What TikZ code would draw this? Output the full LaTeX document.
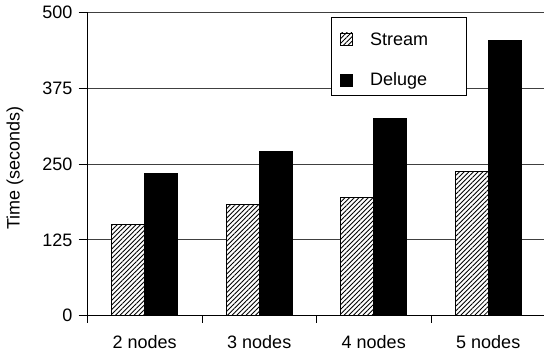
\documentclass[tikz,border=0pt]{standalone}
\usepackage{fontspec}
\setmainfont{Liberation Sans}
\usetikzlibrary{patterns.meta}
\begin{document}
\begin{tikzpicture}[x=1pt,y=1pt,font=\fontsize{18}{21}\selectfont,
  hatchbar/.style={draw=black,line width=0.8pt,fill=white,
    postaction={pattern={Lines[angle=45,distance=3.3pt,line width=0.85pt]}}},
  solidbar/.style={draw=black,line width=0.8pt,fill=black},
  gridline/.style={black!75,line width=0.9pt},
  axisline/.style={black,line width=0.9pt}]
\useasboundingbox (0,0) rectangle (544,356);

\begin{scope}[shift={(87.5,40.3)},y=0.6068pt]
% grade
\foreach \v in {125,250,...,500} {
  \draw[gridline] (0,\v) -- (460,\v);
}

% barras (stream / deluge)
\foreach \c/\s/\d in {57.25/150/235, 171.75/183/271, 286.25/195/325, 400.75/237/453} {
  \draw[hatchbar] (\c-33,0) rectangle (\c,\s);
  \draw[solidbar] (\c,0) rectangle (\c+33,\d);
}

% eixos
\draw[axisline] (0,-11.5) -- (0,500);
\draw[axisline] (0,0) -- (460,0);
\foreach \x in {114.5, 229, 343.5} {
  \draw[axisline] (\x,0) -- (\x,-11.5);
}
\foreach \v in {0,125,...,500} {
  \draw[axisline] (-9,\v) -- (0,\v);
  \node[anchor=east,inner sep=0] (yl\v) at (-14.8,\v) {\v};
}

% rótulos das categorias
\foreach \c/\n in {57.25/2, 171.75/3, 286.25/4, 400.75/5} {
  \node (xl\n) at (\c,-43.3) {\n{} nodes};
}
\node[rotate=90] (ytitle) at (-72.5,243) {Time (seconds)};
\end{scope}

% legenda
\node[draw=black,line width=0.8pt,fill=white,minimum width=135,minimum height=78,inner sep=0] (legend) at (399.2,299.3) {};
\draw[hatchbar] (340,311) rectangle (352,323);
\draw[solidbar] (340,269.5) rectangle (352,281.5);
\node[anchor=west,inner sep=0] (lgstream) at (370,317) {Stream};
\node[anchor=west,inner sep=0] (lgdeluge) at (370,275.5) {Deluge};

\end{tikzpicture}
\end{document}
